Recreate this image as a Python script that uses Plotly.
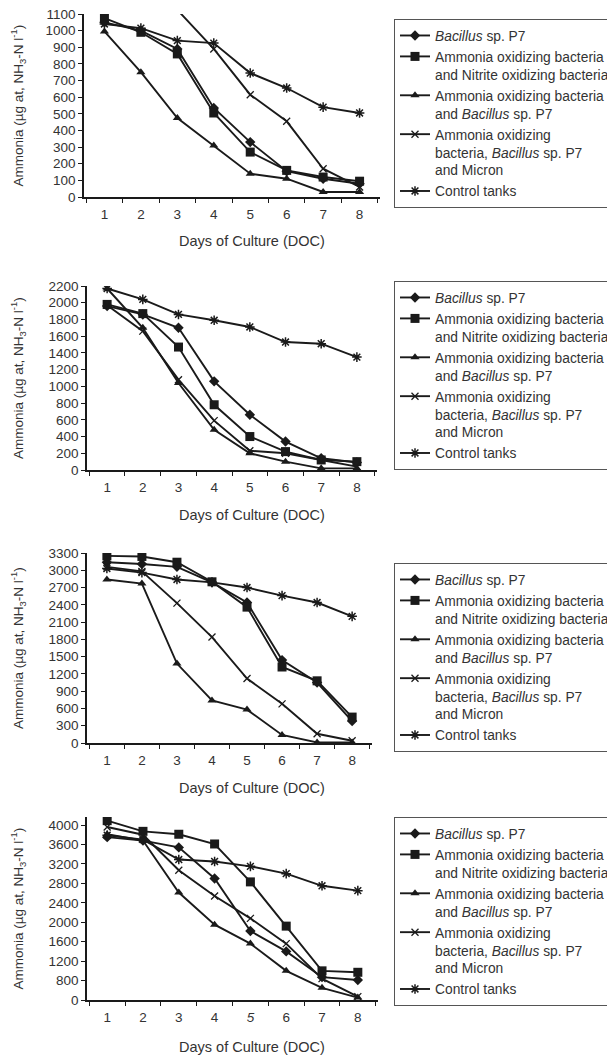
import plotly.graph_objects as go

# The page body has an 8px margin, so the figure is drawn 8px in from the window corner.
OFF = 8
W, H = 615 - OFF, 1060 - OFF

days = ["1", "2", "3", "4", "5", "6", "7", "8"]
day_labels_p4 = ["1", "2", "3", "4", "<i>5</i>", "6", "7", "8"]

names = [
    "<i>Bacillus</i> sp. P7",
    "Ammonia oxidizing bacteria<br>and Nitrite oxidizing bacteria",
    "Ammonia oxidizing bacteria<br>and <i>Bacillus</i> sp. P7",
    "Ammonia oxidizing<br>bacteria, <i>Bacillus</i> sp. P7<br>and Micron",
    "Control tanks",
]

# Panel 1
p1_bacillus = [1050, 1000, 890, 535, 330, 155, 110, 80]
p1_aob_nob = [1075, 990, 860, 505, 270, 160, 120, 95]
p1_aob_bac = [995, 750, 475, 310, 140, 110, 30, 30]
p1_aob_bac_micron = [1200, 1160, 1125, 890, 615, 455, 170, 60]
p1_control = [1040, 1015, 940, 925, 745, 655, 540, 505]

# Panel 2
p2_bacillus = [1960, 1860, 1700, 1060, 660, 340, 140, 90]
p2_aob_nob = [1980, 1870, 1470, 780, 400, 220, 120, 100]
p2_aob_bac = [2170, 1700, 1040, 480, 200, 100, 20, 20]
p2_aob_bac_micron = [1970, 1660, 1080, 590, 230, 200, 120, 40]
p2_control = [2170, 2040, 1860, 1790, 1710, 1530, 1510, 1350]

# Panel 3
p3_bacillus = [3140, 3110, 3060, 2790, 2440, 1440, 1050, 380]
p3_aob_nob = [3250, 3240, 3140, 2800, 2360, 1320, 1080, 450]
p3_aob_bac = [2840, 2770, 1380, 740, 580, 140, 10, 10]
p3_aob_bac_micron = [3060, 2980, 2430, 1840, 1120, 680, 160, 40]
p3_control = [3030, 2960, 2840, 2790, 2700, 2560, 2440, 2200]

# Panel 4 (axis as printed: lowest tick is labelled "0")
p4_bacillus = [3750, 3680, 3540, 2900, 1820, 1400, 870, 810]
p4_aob_nob = [4090, 3870, 3810, 3610, 2830, 1920, 1000, 970]
p4_aob_bac = [3810, 3680, 2610, 1950, 1560, 1000, 650, 450]
p4_aob_bac_micron = [3960, 3800, 3070, 2540, 2080, 1560, 840, 470]
p4_control = [3790, 3700, 3290, 3250, 3150, 3000, 2750, 2650]

p1_yticks = [0, 100, 200, 300, 400, 500, 600, 700, 800, 900, 1000, 1100]
p2_yticks = [0, 200, 400, 600, 800, 1000, 1200, 1400, 1600, 1800, 2000, 2200]
p3_yticks = [0, 300, 600, 900, 1200, 1500, 1800, 2100, 2400, 2700, 3000, 3300]
p4_ytickvals = [400, 800, 1200, 1600, 2000, 2400, 2800, 3200, 3600, 4000]
p4_yticktext = ["0", "800", "1200", "1600", "2000", "2400", "2800", "3200", "3600", "4000"]

panels = [
    dict(data=[p1_bacillus, p1_aob_nob, p1_aob_bac, p1_aob_bac_micron, p1_control],
         xpx=(84, 380), ypx=(14, 197), yrange=[0, 1100], tv=p1_yticks, tt=[str(v) for v in p1_yticks],
         xt=days, leg_top=19, xtitle_y=241),
    dict(data=[p2_bacillus, p2_aob_nob, p2_aob_bac, p2_aob_bac_micron, p2_control],
         xpx=(87, 377), ypx=(286, 470), yrange=[0, 2200], tv=p2_yticks, tt=[str(v) for v in p2_yticks],
         xt=days, leg_top=281, xtitle_y=515),
    dict(data=[p3_bacillus, p3_aob_nob, p3_aob_bac, p3_aob_bac_micron, p3_control],
         xpx=(87, 372), ypx=(553, 743), yrange=[0, 3300], tv=p3_yticks, tt=[str(v) for v in p3_yticks],
         xt=days, leg_top=563, xtitle_y=788),
    dict(data=[p4_bacillus, p4_aob_nob, p4_aob_bac, p4_aob_bac_micron, p4_control],
         xpx=(87, 378), ypx=(817, 1000), yrange=[400, 4165], tv=p4_ytickvals, tt=p4_yticktext,
         xt=day_labels_p4, leg_top=817, xtitle_y=1047),
]

LINE = "#1a1a1a"
TEXT = "#333333"
FONT = "Liberation Sans, Arial, sans-serif"

markers = [
    dict(symbol="diamond", size=8, color=LINE),
    dict(symbol="square", size=9, color=LINE),
    dict(symbol="triangle-up", size=8, color=LINE),
    dict(symbol="x-thin-open", size=7, color=LINE, line=dict(width=1.3, color=LINE)),
    dict(symbol="asterisk-open", size=8, color=LINE, line=dict(width=1.5, color=LINE)),
]


def fx(px):
    return (px - OFF) / W


def fy(px):
    return 1 - (px - OFF) / H


fig = go.Figure()
annotations = []
for i, p in enumerate(panels):
    n = i + 1
    xa = "x" if n == 1 else f"x{n}"
    ya = "y" if n == 1 else f"y{n}"
    leg = "legend" if n == 1 else f"legend{n}"
    for k, vals in enumerate(p["data"]):
        fig.add_trace(go.Scatter(
            x=days, y=vals, name=names[k], mode="lines+markers",
            line=dict(color=LINE, width=1.9), marker=markers[k],
            xaxis=xa, yaxis=ya, legend=leg, cliponaxis=True,
        ))
    xdom = [fx(p["xpx"][0]), fx(p["xpx"][1])]
    ydom = [fy(p["ypx"][1]), fy(p["ypx"][0])]
    xkey = "xaxis" if n == 1 else f"xaxis{n}"
    ykey = "yaxis" if n == 1 else f"yaxis{n}"
    fig.update_layout(**{
        xkey: dict(domain=xdom, anchor=ya, type="category", tickson="boundaries",
                   ticks="outside", ticklen=4, tickwidth=1.2, tickcolor=LINE,
                   showline=True, linecolor=LINE, linewidth=1.5, showgrid=False, zeroline=False,
                   tickvals=days, ticktext=p["xt"], ticklabelstandoff=4, ticklabeloverflow="allow",
                   tickfont=dict(family=FONT, size=13.5, color=TEXT), fixedrange=True),
        ykey: dict(domain=ydom, anchor=xa, range=p["yrange"], tickvals=p["tv"], ticktext=p["tt"],
                   ticks="outside", ticklen=4, tickwidth=1.2, tickcolor=LINE, ticklabeloverflow="allow",
                   showline=True, linecolor=LINE, linewidth=1.5, showgrid=False, zeroline=False,
                   tickfont=dict(family=FONT, size=13.5, color=TEXT), fixedrange=True),
        leg: dict(x=fx(394), y=fy(p["leg_top"]), xanchor="left", yanchor="top",
                  bordercolor="#555555", borderwidth=1, bgcolor="white", valign="top",
                  font=dict(family=FONT, size=13.8, color=TEXT), tracegroupgap=0),
    })
    annotations.append(dict(
        text="Days of Culture (DOC)", x=fx(252), y=fy(p["xtitle_y"]), xref="paper", yref="paper",
        xanchor="center", yanchor="middle", showarrow=False,
        font=dict(family=FONT, size=14.5, color=TEXT)))
    annotations.append(dict(
        text="Ammonia (µg at, NH<sub>3</sub>-N l<sup>-1</sup>)", x=fx(18),
        y=fy((p["ypx"][0] + p["ypx"][1]) / 2), xref="paper", yref="paper",
        xanchor="center", yanchor="middle", textangle=-90, showarrow=False,
        font=dict(family=FONT, size=13.5, color=TEXT)))

fig.update_layout(
    width=W, height=H, margin=dict(l=0, r=0, t=0, b=0, autoexpand=False),
    paper_bgcolor="white", plot_bgcolor="white", showlegend=True,
    annotations=annotations, font=dict(family=FONT, color=TEXT),
)

fig.write_html("out.html")
